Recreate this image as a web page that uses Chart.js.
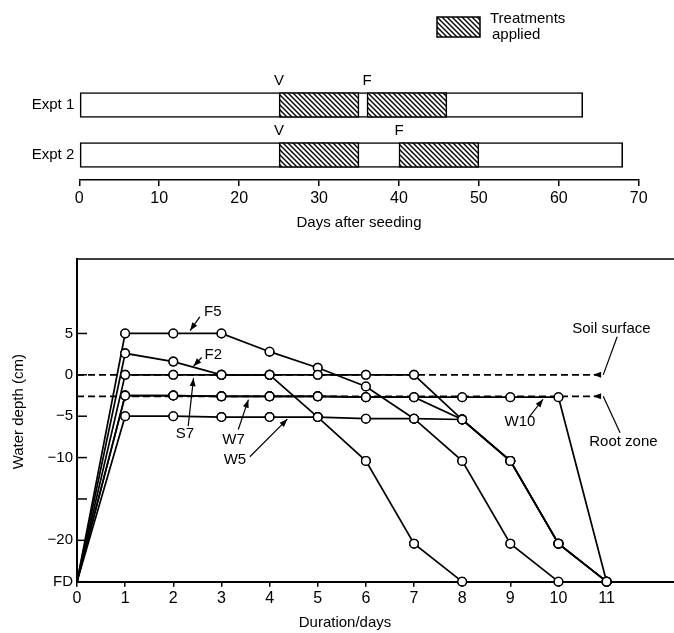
<!DOCTYPE html>
<html>
<head>
<meta charset="utf-8">
<script src="https://cdn.jsdelivr.net/npm/chart.js@4.4.1/dist/chart.umd.min.js"></script>
<style>
  body { margin: 0; background: #fff; }
  #wrap { position: relative; width: 674px; height: 633px; }
  canvas { position: absolute; left: 0; }
</style>
</head>
<body>
<div id="wrap">
  <canvas id="timeline" width="674" height="240" style="top:0"></canvas>
  <canvas id="depth" width="674" height="393" style="top:240px"></canvas>
</div>
<script>
const FONT = "'Liberation Sans', Arial, sans-serif";

// panel de arriba: calendario de los experimentos
const expts = ['Expt 1', 'Expt 2'];
const growEnd = [63, 68];
const vStart = [25, 25];
const vEnd = [35, 35];
const fStart = [36, 40];
const fEnd = [46, 50];
const seedTicks = [0, 10, 20, 30, 40, 50, 60, 70];

// panel de abajo: profundidad del agua vs duracion
const days = [0, 1, 2, 3, 4, 5, 6, 7, 8, 9, 10, 11];
const depthTicks = [-25, -20, -15, -10, -5, 0, 5];
const depthTickLabels = ['FD', '\u221220', '', '\u221210', '\u22125', '0', '5'];
const f5 = [-25, 5, 5, 5, 2.8, 0.85, -1.4, -5.3, -10.4, -20.4, -25];
const f2 = [-25, 2.6, 1.6, 0, 0, -5.1, -10.4, -20.4, -25];
const s7 = [-25, 0, 0, 0, 0, 0, 0, 0, -5.4, -10.4, -20.4, -25];
const w7 = [-25, -2.5, -2.5, -2.6, -2.6, -2.6, -2.7, -2.7, -5.4, -10.4, -20.4, -25];
const w5 = [-25, -5, -5, -5.1, -5.1, -5.1, -5.3, -5.3, -5.4, -10.4, -20.4, -25];
const w10 = [-25, -2.5, -2.5, -2.6, -2.6, -2.6, -2.7, -2.7, -2.7, -2.7, -2.7, -25];
const soilSurface = 0;
const rootZone = -2.6;
const guideEnd = 10.93;

const series = [
  { label: 'F5', data: f5 },
  { label: 'F2', data: f2 },
  { label: 'S7', data: s7 },
  { label: 'W7', data: w7 },
  { label: 'W5', data: w5 },
  { label: 'W10', data: w10 }
];

// rayado para los tratamientos
function hatch(ctx) {
  const c = document.createElement('canvas');
  c.width = 5; c.height = 5;
  const g = c.getContext('2d');
  g.fillStyle = '#fff';
  g.fillRect(0, 0, 5, 5);
  g.strokeStyle = '#000';
  g.lineWidth = 1.4;
  g.beginPath();
  g.moveTo(-1, -1); g.lineTo(6, 6);
  g.moveTo(-1, 4); g.lineTo(1, 6);
  g.moveTo(4, -1); g.lineTo(6, 1);
  g.stroke();
  return ctx.createPattern(c, 'repeat');
}

function arrowHead(ctx, x1, y1, x2, y2) {
  const a = Math.atan2(y2 - y1, x2 - x1);
  const L = 8, W = 3;
  ctx.beginPath();
  ctx.moveTo(x2, y2);
  ctx.lineTo(x2 - L * Math.cos(a) + W * Math.sin(a), y2 - L * Math.sin(a) - W * Math.cos(a));
  ctx.lineTo(x2 - L * Math.cos(a) - W * Math.sin(a), y2 - L * Math.sin(a) + W * Math.cos(a));
  ctx.closePath();
  ctx.fill();
}

const noSidePad = s => { s.paddingLeft = 0; s.paddingRight = 0; };

const timelineCtx = document.getElementById('timeline').getContext('2d');
const pat = hatch(timelineCtx);

const timelineNotes = {
  id: 'timelineNotes',
  afterDatasetsDraw(chart) {
    const ctx = chart.ctx;
    ctx.save();
    ctx.fillStyle = '#000';
    ctx.font = '15px ' + FONT;
    ctx.textAlign = 'center';
    ctx.textBaseline = 'middle';
    // letras V y F encima del inicio de cada tratamiento
    [0, 1].forEach(di => {
      const meta = chart.getDatasetMeta(di);
      meta.data.forEach(bar => {
        ctx.fillText(chart.data.datasets[di].label, bar.base, bar.y - bar.height / 2 - 12);
      });
    });
    // leyenda
    ctx.fillStyle = pat;
    ctx.fillRect(437, 17, 43, 20);
    ctx.strokeStyle = '#000';
    ctx.lineWidth = 1.5;
    ctx.strokeRect(437, 17, 43, 20);
    ctx.fillStyle = '#000';
    ctx.font = '15px ' + FONT;
    ctx.textAlign = 'left';
    ctx.fillText('Treatments', 490, 19);
    ctx.fillText('applied', 492, 35);
    ctx.restore();
  }
};

new Chart(timelineCtx, {
  type: 'bar',
  data: {
    labels: expts,
    datasets: [
      { label: 'V', data: expts.map((_, i) => [vStart[i], vEnd[i]]), order: 1 },
      { label: 'F', data: expts.map((_, i) => [fStart[i], fEnd[i]]), order: 1 },
      { label: 'growth', data: expts.map((_, i) => [0, growEnd[i]]), backgroundColor: '#fff', order: 2 }
    ].map(d => Object.assign({
      backgroundColor: pat,
      borderColor: '#000',
      borderWidth: 1.6,
      borderSkipped: false,
      grouped: false,
      barThickness: 25
    }, d))
  },
  options: {
    indexAxis: 'y',
    responsive: false,
    animation: false,
    devicePixelRatio: 1,
    layout: { autoPadding: false, padding: { top: 80, right: 35.3, left: 0, bottom: 0 } },
    plugins: { legend: { display: false }, tooltip: { enabled: false } },
    scales: {
      x: {
        type: 'linear', min: 0, max: 70,
        afterBuildTicks: s => { s.ticks = seedTicks.map(v => ({ value: v })); },
        grid: { drawOnChartArea: false, drawTicks: true, tickLength: 6, color: '#000', lineWidth: 1.5 },
        border: { display: true, color: '#000', width: 1.6 },
        ticks: { color: '#000', font: { family: FONT, size: 16 }, padding: 3, maxRotation: 0, autoSkip: false },
        title: { display: true, text: 'Days after seeding', color: '#000', font: { family: FONT, size: 15 }, padding: { top: 0, bottom: 8 } },
        afterFit: s => { s.height = 60; noSidePad(s); }
      },
      y: {
        grid: { display: false, drawTicks: false },
        border: { display: false },
        ticks: { color: '#000', font: { family: FONT, size: 15 }, padding: 5 },
        afterFit: s => { s.width = 79.3; }
      }
    }
  },
  plugins: [timelineNotes]
});

// anotaciones del panel de abajo (en unidades de datos)
const notes = [
  { text: 'F5', at: [2.82, 7.6], from: [2.55, 7.0], to: [2.35, 5.35], head: true },
  { text: 'F2', at: [2.83, 2.4], from: [2.59, 2.1], to: [2.42, 1.05], head: true },
  { text: 'S7', at: [2.24, -7.1], from: [2.31, -6.2], to: [2.42, -0.4], head: true },
  { text: 'W7', at: [3.25, -7.9], from: [3.35, -6.6], to: [3.56, -3.0], head: true },
  { text: 'W5', at: [3.28, -10.3], from: [3.59, -9.9], to: [4.37, -5.35], head: true },
  { text: 'W10', at: [9.2, -5.7], from: [9.39, -5.1], to: [9.68, -2.95], head: true },
  { text: 'Soil surface', at: [11.1, 5.6], from: [11.22, 4.6], to: [guideEnd, soilSurface], head: false },
  { text: 'Root zone', at: [11.35, -8.1], from: [11.28, -7.0], to: [guideEnd, rootZone], head: false }
];

const depthFrame = {
  id: 'depthFrame',
  afterDatasetsDraw(chart) {
    const { ctx, chartArea: a, scales: { x, y } } = chart;
    ctx.save();
    // puntos encima de todas las lineas
    chart.data.datasets.forEach((ds, i) => {
      const meta = chart.getDatasetMeta(i);
      if (ds.pointRadius === 0) return;
      meta.data.forEach(p => p.draw(ctx, a));
    });
    ctx.strokeStyle = '#000';
    ctx.fillStyle = '#000';
    ctx.lineWidth = 1.5;
    // linea de arriba
    ctx.beginPath();
    ctx.moveTo(a.left, a.top);
    ctx.lineTo(a.right, a.top);
    ctx.stroke();
    // ticks hacia adentro
    depthTicks.forEach(v => {
      const py = y.getPixelForValue(v);
      ctx.beginPath();
      ctx.moveTo(a.left, py);
      ctx.lineTo(a.left + 10, py);
      ctx.stroke();
    });
    // puntas de flecha en las guias
    [soilSurface, rootZone].forEach(v => {
      arrowHead(ctx, x.getPixelForValue(guideEnd), y.getPixelForValue(v),
        x.getPixelForValue(10.72), y.getPixelForValue(v));
    });
    ctx.lineWidth = 1.2;
    ctx.font = '15px ' + FONT;
    ctx.textAlign = 'center';
    ctx.textBaseline = 'middle';
    notes.forEach(n => {
      const x1 = x.getPixelForValue(n.from[0]), y1 = y.getPixelForValue(n.from[1]);
      const x2 = x.getPixelForValue(n.to[0]), y2 = y.getPixelForValue(n.to[1]);
      ctx.beginPath();
      ctx.moveTo(x1, y1);
      ctx.lineTo(x2, y2);
      ctx.stroke();
      if (n.head) arrowHead(ctx, x1, y1, x2, y2);
      ctx.fillText(n.text, x.getPixelForValue(n.at[0]), y.getPixelForValue(n.at[1]));
    });
    // titulos de los ejes
    ctx.fillText('Duration/days', 345, 383);
    ctx.translate(19, 171.7);
    ctx.rotate(-Math.PI / 2);
    ctx.fillText('Water depth (cm)', 0, 0);
    ctx.restore();
  }
};

const lineSets = series.map(s => ({
  label: s.label,
  data: s.data.map((v, i) => ({ x: days[i], y: v })),
  borderColor: '#000',
  borderWidth: 1.7,
  pointRadius: c => (c.dataIndex === 0 ? 0 : 4.3),
  pointBackgroundColor: '#fff',
  pointBorderColor: '#000',
  pointBorderWidth: 1.4,
  tension: 0,
  fill: false,
  clip: false,
  order: 0
}));

const guideSets = [soilSurface, rootZone].map(v => ({
  label: 'guide',
  data: [{ x: 0, y: v }, { x: guideEnd, y: v }],
  borderColor: '#000',
  borderWidth: 1.6,
  borderDash: [7, 4],
  pointRadius: 0,
  fill: false,
  clip: false,
  order: 1
}));

new Chart(document.getElementById('depth'), {
  type: 'line',
  data: { datasets: lineSets.concat(guideSets) },
  options: {
    responsive: false,
    animation: false,
    devicePixelRatio: 1,
    layout: { autoPadding: false, padding: { top: 19, right: 0, left: 0, bottom: 0 } },
    plugins: { legend: { display: false }, tooltip: { enabled: false } },
    scales: {
      x: {
        type: 'linear', min: 0, max: 12.4,
        afterBuildTicks: s => { s.ticks = days.map(v => ({ value: v })); },
        grid: { drawOnChartArea: false, drawTicks: true, tickLength: 5, color: '#000', lineWidth: 1.5 },
        border: { display: true, color: '#000', width: 2 },
        ticks: { color: '#000', font: { family: FONT, size: 16 }, padding: 2, maxRotation: 0, autoSkip: false },
        afterFit: s => { s.height = 51.3; noSidePad(s); }
      },
      y: {
        type: 'linear', min: -25, max: 14,
        afterBuildTicks: s => { s.ticks = depthTicks.map(v => ({ value: v })); },
        grid: { display: false, drawTicks: false },
        border: { display: true, color: '#000', width: 2 },
        ticks: { color: '#000', font: { family: FONT, size: 15 }, padding: 4, callback: (v, i) => depthTickLabels[i] },
        afterFit: s => { s.width = 77; }
      }
    }
  },
  plugins: [depthFrame]
});
</script>
</body>
</html>
